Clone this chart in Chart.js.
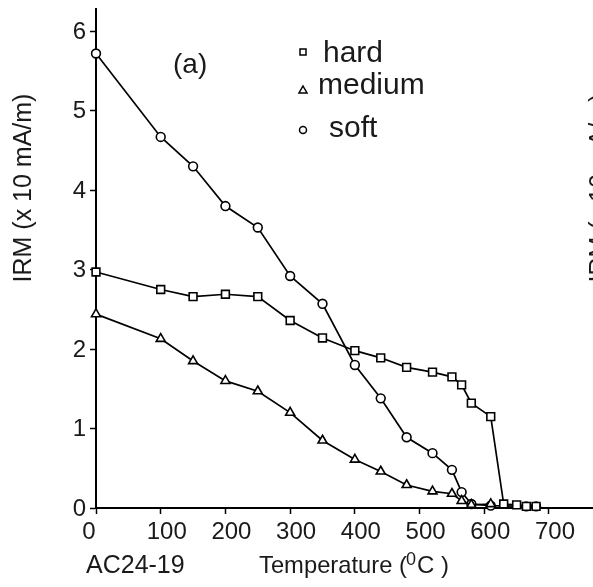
<!DOCTYPE html>
<html>
<head>
<meta charset="utf-8">
<script src="https://cdn.jsdelivr.net/npm/chart.js@4/dist/chart.umd.min.js"></script>
<style>
body{margin:0;background:#fff}
#wrap{width:593px;height:587px}
</style>
</head>
<body>
<div id="wrap"><canvas id="c" width="593" height="587"></canvas></div>
<script>
const hardT = [0,100,150,200,250,300,350,400,440,480,520,550,565,580,610,630,650,665,680]
const hardV = [2.97,2.75,2.66,2.69,2.66,2.36,2.14,1.98,1.89,1.77,1.71,1.65,1.55,1.32,1.15,0.05,0.04,0.02,0.02]
const mediumT = [0,100,150,200,250,300,350,400,440,480,520,550,565,580,610]
const mediumV = [2.44,2.13,1.85,1.60,1.47,1.20,0.85,0.61,0.46,0.29,0.21,0.18,0.09,0.04,0.05]
const softT = [0,100,150,200,250,300,350,400,440,480,520,550,565,580,610,665,680]
const softV = [5.72,4.67,4.30,3.80,3.53,2.92,2.57,1.80,1.38,0.89,0.69,0.48,0.20,0.05,0.03,0.02,0.02]
const xTicks = [0,100,200,300,400,500,600,700]
const yTicks = [0,1,2,3,4,5,6]
const seriesNames = ['hard','medium','soft']

const FONT = '"Liberation Sans", Arial, sans-serif'
let pts = (t, v) => t.map((x, i) => ({x: x, y: v[i]}))

let series = (name, t, v, style, r) => ({
	label: name,
	data: pts(t, v),
	borderColor: '#000',
	borderWidth: 1.7,
	pointStyle: style,
	pointRadius: r,
	pointBorderWidth: 1.6,
	pointBackgroundColor: '#fff',
	pointBorderColor: '#000',
	tension: 0,
	clip: false
})

let txt = (ctx, s, x, y, size, align) => {
	ctx.font = size + 'px ' + FONT
	ctx.textAlign = align || 'left'
	ctx.fillText(s, x, y)
}

const decor = {
	id: 'decor',
	afterDraw: chart => {
		let ctx = chart.ctx
		let xs = chart.scales.x, ys = chart.scales.y
		ctx.save()
		ctx.fillStyle = '#1a1a1a'
		ctx.textBaseline = 'middle'
		yTicks.forEach(v => txt(ctx, String(v), xs.left - 10, ys.getPixelForValue(v) + 1, 24, 'right'))
		ctx.textBaseline = 'alphabetic'
		xTicks.forEach(v => txt(ctx, String(v), xs.getPixelForValue(v) + (v === 0 ? -7 : 6), 539, 24, 'center'))

		txt(ctx, 'AC24-19', 86, 573, 25)
		ctx.font = '24px ' + FONT
		ctx.textAlign = 'left'
		ctx.fillText('Temperature (', 259, 573, 148)
		txt(ctx, '0', 406, 565, 18)
		txt(ctx, 'C )', 417, 573, 24)

		txt(ctx, '(a)', 173, 73, 28)

		// legend
		ctx.strokeStyle = '#000'
		ctx.lineWidth = 1.5
		ctx.strokeRect(300, 49, 6, 6)
		ctx.beginPath()
		ctx.moveTo(303, 86); ctx.lineTo(307, 93); ctx.lineTo(299, 93); ctx.closePath()
		ctx.stroke()
		ctx.beginPath()
		ctx.arc(303, 130, 3.5, 0, Math.PI * 2)
		ctx.stroke()
		txt(ctx, seriesNames[0], 323, 62, 30)
		txt(ctx, seriesNames[1], 318, 94, 30)
		txt(ctx, seriesNames[2], 329, 137, 30)

		// y titles (second one belongs to the neighbouring panel, cut off)
		;[31, 607].forEach(bx => {
			ctx.save()
			ctx.translate(bx, 188)
			ctx.rotate(-Math.PI / 2)
			txt(ctx, 'IRM (x 10 mA/m)', 0, 0, 25, 'center')
			ctx.restore()
		})
		ctx.restore()
	}
}

new Chart(document.getElementById('c'), {
	type: 'line',
	data: {
		datasets: [
			series(seriesNames[0], hardT, hardV, 'rect', 5.5),
			series(seriesNames[1], mediumT, mediumV, 'triangle', 5.2),
			series(seriesNames[2], softT, softV, 'circle', 4.4)
		]
	},
	options: {
		responsive: false,
		animation: false,
		layout: {autoPadding: false, padding: {left: 90, top: 9, right: 0, bottom: 73}},
		plugins: {legend: {display: false}, tooltip: {enabled: false}},
		scales: {
			x: {
				type: 'linear', min: 0, max: 768,
				ticks: {display: false, stepSize: 100, includeBounds: false},
				grid: {drawOnChartArea: false, tickLength: 6, tickColor: '#000', tickWidth: 1.5},
				border: {color: '#000', width: 2}
			},
			y: {
				type: 'linear', min: 0, max: 6.28,
				ticks: {display: false, stepSize: 1, includeBounds: false},
				grid: {drawOnChartArea: false, tickLength: 6, tickColor: '#000', tickWidth: 1.5},
				border: {color: '#000', width: 2}
			}
		}
	},
	plugins: [decor]
})
</script>
</body>
</html>
